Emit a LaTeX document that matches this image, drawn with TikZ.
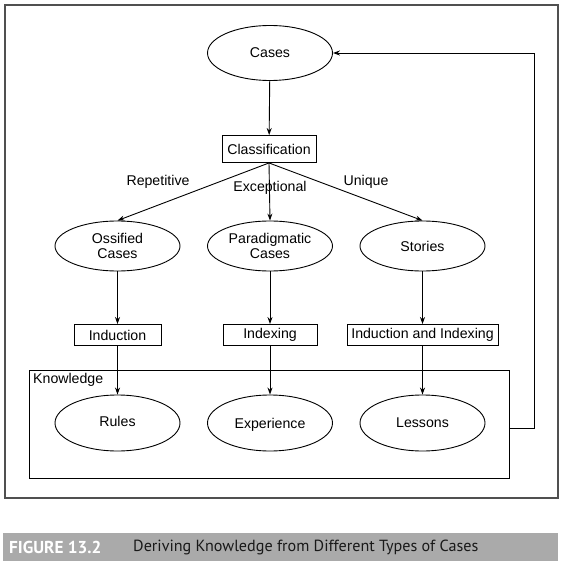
\documentclass[tikz,border=0pt]{standalone}
\usepackage{fontspec}
\setmainfont{Liberation Sans}
\newfontfamily\capfont{PT Sans}
\usetikzlibrary{shapes.geometric,arrows.meta}
\definecolor{framegray}{RGB}{80,80,80}
\definecolor{bargray}{RGB}{170,170,170}
\definecolor{captext}{RGB}{25,25,25}
\begin{document}
\begin{tikzpicture}[x=1bp,y=-1bp,
  every node/.style={font=\fontsize{14.2}{15.5}\selectfont, text=black},
  oval/.style={draw, ellipse, line width=0.9bp, minimum width=125bp, minimum height=55bp, inner sep=0pt, align=center},
  procbox/.style={draw, rectangle, line width=0.9bp, minimum height=21bp, inner sep=0pt, align=center},
  flow/.style={-{Stealth[length=7bp,width=5bp]}, line width=0.9bp},
  lab/.style={inner sep=0pt}
]
\useasboundingbox (0,0) rectangle (567,573);
% outer frame
\draw[framegray, line width=1.2bp] (5,5) rectangle (558,498);
% knowledge box
\draw[line width=0.9bp] (29,370) rectangle (509,478);
\coordinate (kright) at (509,428);
\node[lab, anchor=west] (klabel) at (33,380) {Knowledge};
% nodes
\node[oval] (cases) at (270,53) {Cases};
\node[procbox, minimum width=94bp, minimum height=27bp] (class) at (269,149) {Classification};
\node[oval, minimum height=50bp] (oss) at (117.5,246) {Ossified\\Cases};
\node[oval, minimum height=50bp] (para) at (270,246) {Paradigmatic\\Cases};
\node[oval, minimum height=50bp] (stor) at (422.5,246) {Stories};
\node[procbox, minimum width=87bp] (ind) at (117.5,335) {Induction};
\node[procbox, minimum width=94bp] (idx) at (270,335) {Indexing};
\node[procbox, minimum width=151bp] (iai) at (422.5,335) {Induction and Indexing};
\node[oval, minimum height=56bp, text depth=0pt] (rules) at (117.5,423) {\raisebox{4bp}{Rules}};
\node[oval, minimum height=56bp, text depth=0pt] (exp) at (270,423) {Experience};
\node[oval, minimum height=56bp, text depth=0pt] (less) at (422.5,423) {Lessons};
% edge labels
\node[lab] (lrep) at (158,182) {Repetitive};
\node[lab] (lexc) at (270,188) {Exceptional};
\node[lab] (luni) at (366,182) {Unique};
% connectors
\draw[flow] (cases) -- (class);
\draw[flow] (class.south) -- (oss.north);
\draw[flow] (class.south) -- (para.north);
\draw[flow] (class.south) -- (stor.north);
\draw[flow] (oss) -- (ind);
\draw[flow] (para) -- (idx);
\draw[flow] (stor) -- (iai);
\draw[flow] (ind) -- (rules);
\draw[flow] (idx) -- (exp);
\draw[flow] (iai) -- (less);
\coordinate (fb1) at (534,428);
\coordinate (fb2) at (534,53);
\draw[flow] (kright) -- (fb1) -- (fb2) -- (cases.east);
% caption bar
\fill[bargray] (3,533) rectangle (558,561);
\node[lab, anchor=west, text=white, font=\capfont\bfseries\fontsize{17.3}{19}\selectfont] (fig) at (9,547) {FIGURE 13.2};
\node[lab, anchor=west, text=captext, font=\capfont\fontsize{16.2}{19}\selectfont] (cap) at (133,547) {Deriving Knowledge from Different Types of Cases};
\end{tikzpicture}
\end{document}
